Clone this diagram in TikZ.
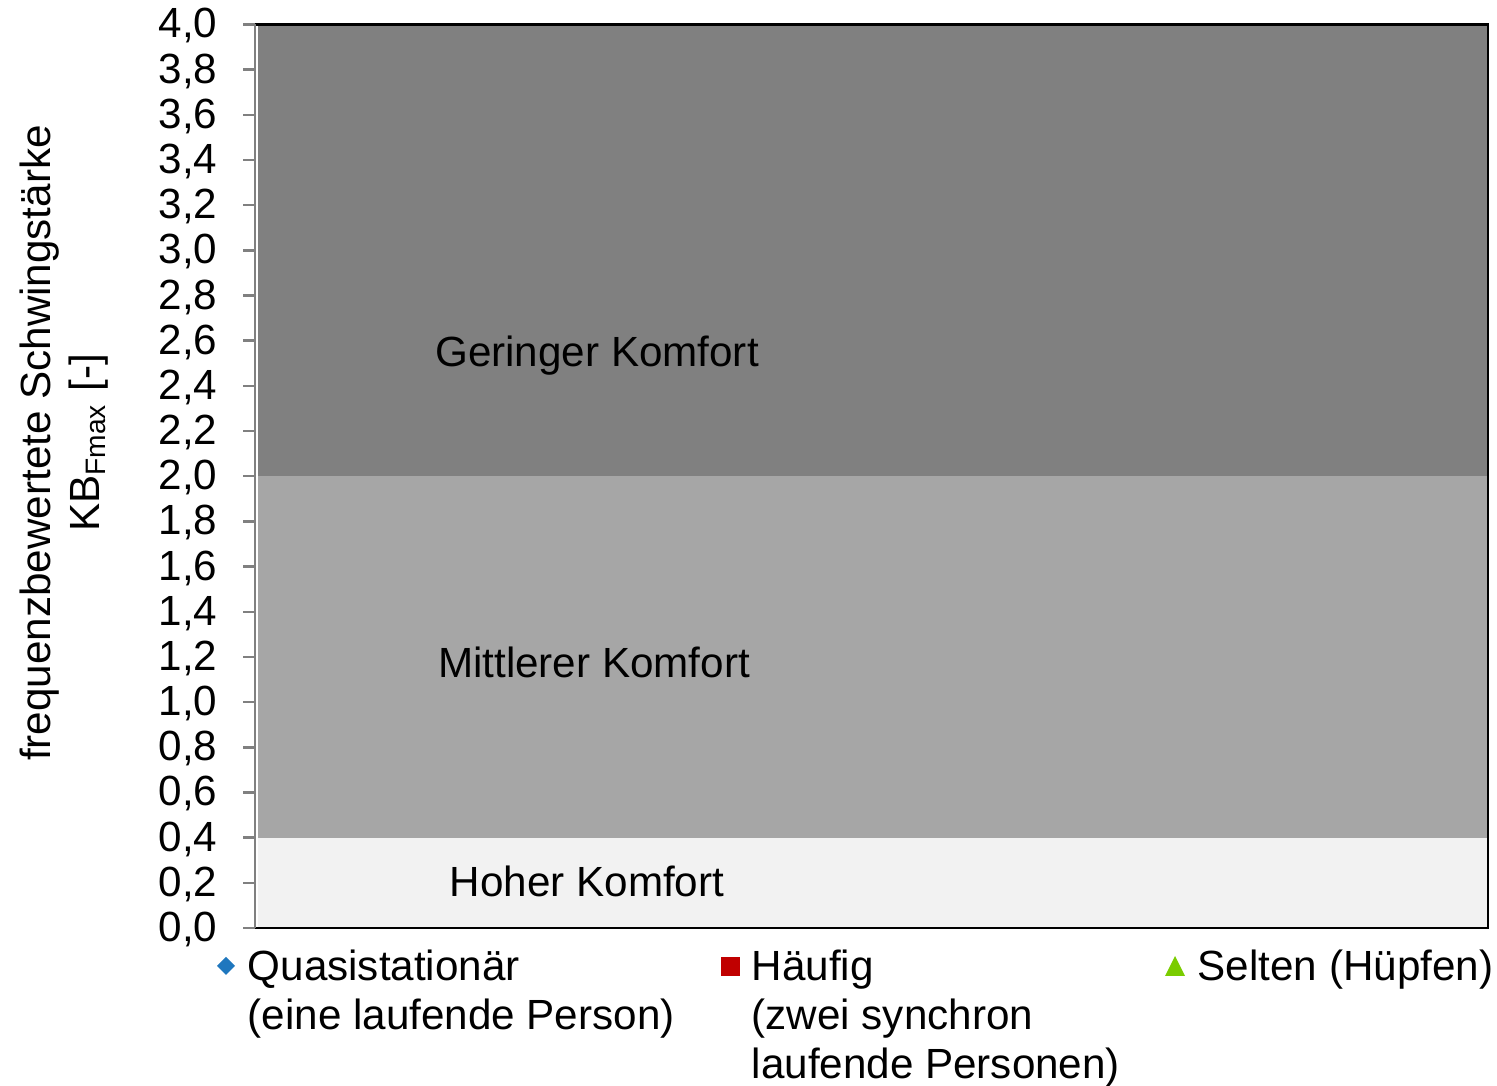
\documentclass[tikz,border=0pt]{standalone}
\usepackage{fontspec}
\setmainfont{Liberation Sans}
\definecolor{hoherk}{RGB}{242,242,242}
\definecolor{mittlererk}{RGB}{166,166,166}
\definecolor{geringerk}{RGB}{128,128,128}
\definecolor{quasiblau}{RGB}{31,119,190}
\definecolor{haeufigrot}{RGB}{192,0,0}
\definecolor{seltengruen}{RGB}{122,204,0}
\tikzset{
  txt/.style={font=\fontsize{12}{13.9}\selectfont, inner sep=0pt},
  legtxt/.style={txt, anchor=north west, align=left},
  achse/.style={line width=0.7pt, color=gray},
}
\begin{document}
\begin{tikzpicture}[x=0.01cm,y=0.01cm]
  \useasboundingbox (0,0) rectangle (1497,1086);
  % Komfortbereiche
  \begin{scope}[shift={(255,158)},y=2.2575cm]
    \fill[hoherk] (3,0) rectangle (1233,0.4);
    \fill[mittlererk] (3,0.4) rectangle (1233,2.0);
    \fill[geringerk] (3,2.0) rectangle (1233,4.0);
    \draw[line width=0.7pt] (0,4) -- (1233,4) -- (1233,0) -- (0,0);
    \draw[achse] (0,0) -- (0,4);
    \foreach \i in {0,...,20}{
      \pgfmathsetmacro\v{\i*0.2}
      \pgfmathtruncatemacro\a{\i/5}
      \pgfmathtruncatemacro\b{2*mod(\i,5)}
      \draw[achse] (-12,\v) -- (0,\v);
      \node[txt, anchor=base east, yshift=-0.135cm] (tick\i) at (-37,\v) {\a,\b};
    }
  \end{scope}
  \node[txt, rotate=90, align=center] (ylabel) at (64,643)
    {frequenzbewertete Schwingstärke\\KB\textsubscript{Fmax} [-]};
  \node[txt, anchor=base] (gering) at (597,719) {Geringer Komfort};
  \node[txt, anchor=base] (mittel) at (594,408) {Mittlerer Komfort};
  \node[txt, anchor=base] (hoch) at (587,189) {Hoher Komfort};
  % Legende
  \fill[quasiblau] (226,129) -- (235,120) -- (226,111) -- (217,120) -- cycle;
  \node[legtxt] (quasi) at (247,137) {Quasistationär\\(eine laufende Person)};
  \fill[haeufigrot] (721,110) rectangle (740,129);
  \node[legtxt] (haeufig) at (751,137) {Häufig\\(zwei synchron\\laufende Personen)};
  \fill[seltengruen] (1165,110) -- (1185,110) -- (1175,130) -- cycle;
  \node[legtxt] (selten) at (1197,137) {Selten (Hüpfen)};
\end{tikzpicture}
\end{document}
